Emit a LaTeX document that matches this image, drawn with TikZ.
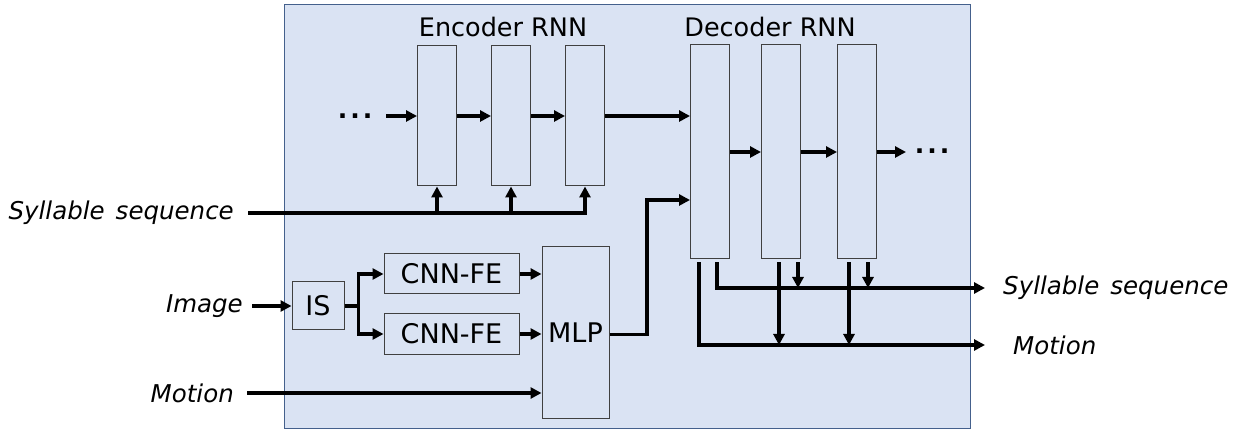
\documentclass[tikz,border=0pt]{standalone}
\usepackage{fontspec}
\setmainfont{DejaVu Sans}
\usetikzlibrary{arrows.meta}
\definecolor{panelfill}{RGB}{218,227,243}
\definecolor{paneldraw}{RGB}{68,96,140}
\tikzset{arr/.style={line width=3.3pt, -{Triangle[length=11pt,width=11pt]}}}
\tikzset{cell/.style={draw=black!75, line width=1pt, minimum width=39pt, inner sep=0pt}}
\tikzset{blk/.style={draw=black!75, line width=1pt, inner sep=0pt, font=\fontsize{27}{32}\selectfont}}
\tikzset{lbl/.style={inner sep=0pt, font=\fontsize{24.5}{30}\selectfont\itshape}}
\tikzset{ttl/.style={inner sep=0pt, font=\fontsize{25.5}{30}\selectfont}}
\tikzset{dotsbox/.style={inner sep=0pt, anchor=base, font=\fontsize{25}{30}\selectfont\bfseries}}
\newcommand{\sylsq}{Syllable\hspace{0.45em}sequence}
\newcommand{\spdots}{.\hspace{3pt}.\hspace{3pt}.}

\begin{document}
\begin{tikzpicture}[x=1pt,y=-1pt]
\useasboundingbox (0,0) rectangle (1245,430);
\filldraw[fill=panelfill, draw=paneldraw, line width=1pt] (284,5) rectangle (970,428);

\node[ttl] (enctitle) at (503,27) {Encoder RNN};
\node[ttl] (dectitle) at (770,27) {Decoder RNN};
\foreach \n/\x in {1/437,2/511,3/585}
  \node[cell, minimum height=140pt] (enc\n) at (\x,116) {};
\foreach \n/\x in {1/710,2/781,3/857}
  \node[cell, minimum height=214pt] (dec\n) at (\x,152) {};
\node[dotsbox] (dotsin) at (355,119) {\spdots};
\node[dotsbox] (dotsout) at (932,154) {\spdots};
\coordinate (encin) at (386,116);
\coordinate (decout) at (906,152);

\node[blk, minimum width=52pt, minimum height=48pt] (is) at (318,306) {IS};
\node[blk, minimum width=135pt, minimum height=40pt] (cnn1) at (451.5,274) {CNN-FE};
\node[blk, minimum width=135pt, minimum height=40pt] (cnn2) at (451.5,334) {CNN-FE};
\node[blk, minimum width=67pt, minimum height=171pt] (mlp) at (575.5,332.5) {MLP};
\coordinate (bend) at (647,200);

\node[lbl, anchor=east] (sylin) at (234,213) {\sylsq};
\node[lbl, anchor=east] (imgin) at (243,306) {Image};
\node[lbl, anchor=east] (motin) at (234,393) {Motion};
\node[lbl, anchor=west] (sylout) at (1003,288) {\sylsq};
\node[lbl, anchor=west] (motout) at (1013,345) {Motion};

\draw[arr] (encin) -- (enc1.west);
\draw[arr] (enc1.east) -- (enc2.west);
\draw[arr] (enc2.east) -- (enc3.west);
\draw[arr] (enc3.east) -- (dec1.west |- enc3.east);
\draw[arr] (dec1.east) -- (dec2.west);
\draw[arr] (dec2.east) -- (dec3.west);
\draw[arr] (dec3.east) -- (decout);

\draw[arr, shorten <=14pt] (sylin.east) -| (enc3.south);
\foreach \n in {1,2}
  \draw[arr] (enc\n.south |- sylin.east) -- (enc\n.south);

\draw[arr, shorten <=9pt] (imgin.east) -- (is.west);
\draw[arr] (is.east) -- ++(14,0) |- (cnn1.west);
\draw[arr] (is.east) -- ++(14,0) |- (cnn2.west);
\draw[arr] (cnn1.east) -- (mlp.west |- cnn1.east);
\draw[arr] (cnn2.east) -- (mlp.west |- cnn2.east);
\draw[arr, shorten <=13pt] (motin.east) -- (mlp.west |- motin.east);
\draw[arr] ([yshift=-2pt]mlp.east) -| (bend) -- (dec1.west |- bend);

\draw[arr, shorten <=3pt, shorten >=18pt] ([xshift=7pt]dec1.south) |- (sylout.west);
\draw[arr, shorten <=3pt, shorten >=28pt] ([xshift=-11pt]dec1.south) |- (motout.west);
\draw[arr, shorten <=3pt] ([xshift=17pt]dec2.south) -- ([xshift=17pt]dec2.south |- sylout.west);
\draw[arr, shorten <=3pt] ([xshift=-2pt]dec2.south) -- ([xshift=-2pt]dec2.south |- motout.west);
\draw[arr, shorten <=3pt] ([xshift=11pt]dec3.south) -- ([xshift=11pt]dec3.south |- sylout.west);
\draw[arr, shorten <=3pt] ([xshift=-8pt]dec3.south) -- ([xshift=-8pt]dec3.south |- motout.west);
\end{tikzpicture}
\end{document}
